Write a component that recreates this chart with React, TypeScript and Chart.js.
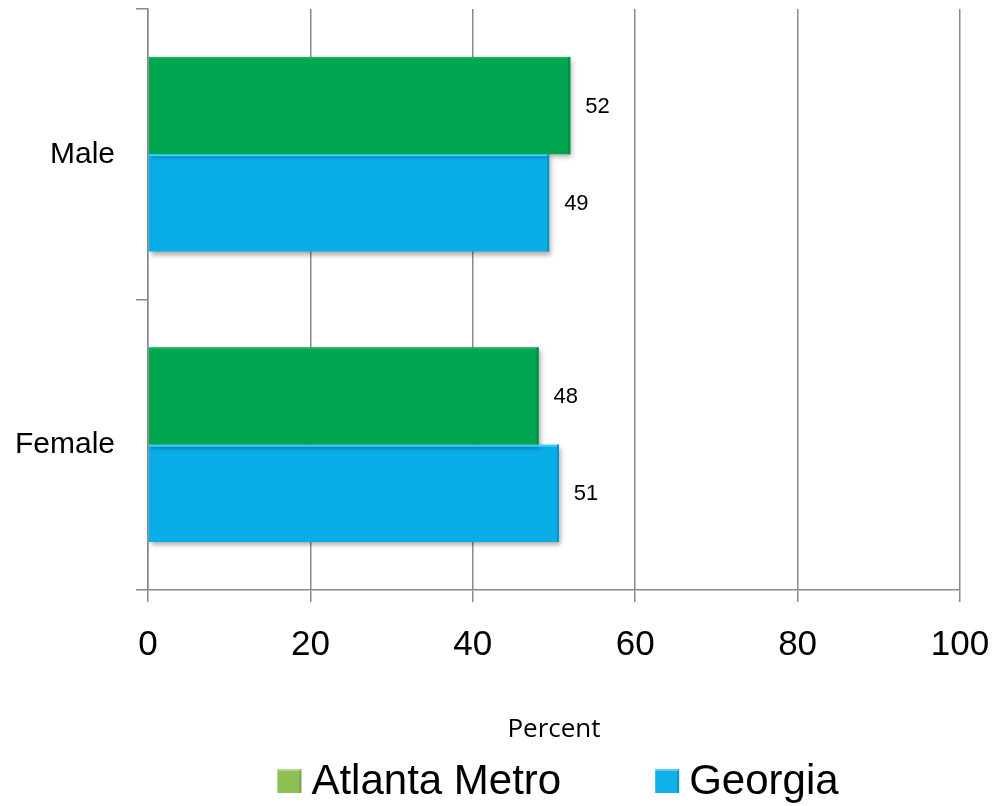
import React, { useEffect, useRef } from "react";
import { Chart, registerables } from "chart.js";

Chart.register(...registerables);

const categories = ["Male", "Female"];
const atlantaMetro = [52, 48.1];
const georgia = [49.4, 50.6];
const xTicks = [0, 20, 40, 60, 80, 100];
const seriesNames = ["Atlanta Metro", "Georgia"];
const barColors = ["#00a64f", "#09aee9"];
const barTopEdge = ["#14b060", "#3fcdfb"];
const barRightEdge = ["#008c42", "#0a92c6"];
const legendColors = ["#8dc153", "#12b0e8"];

const GRID = "#8a8a8a";
const SANS = "'Liberation Sans', Arial, sans-serif";

const shadowPlugin = {
  id: "barShadow",
  beforeDatasetsDraw(chart: any) {
    const ctx = chart.ctx;
    ctx.save();
    ctx.shadowColor = "rgba(0,0,0,0.35)";
    ctx.shadowBlur = 5;
    ctx.shadowOffsetX = 2;
    ctx.shadowOffsetY = 3;
  },
  afterDatasetsDraw(chart: any) {
    chart.ctx.restore();
  },
};

const bevelPlugin = {
  id: "bevel",
  afterDatasetsDraw(chart: any) {
    const ctx = chart.ctx;
    ctx.save();
    chart.data.datasets.forEach((ds: any, di: number) => {
      const meta = chart.getDatasetMeta(di);
      meta.data.forEach((bar: any) => {
        const h = bar.height;
        const top = bar.y - h / 2;
        const left = bar.base;
        const right = bar.x;
        ctx.fillStyle = barTopEdge[di];
        ctx.fillRect(left, top, right - left, 2);
        ctx.fillStyle = barRightEdge[di];
        ctx.fillRect(right - 2, top, 2, h);
      });
    });
    ctx.restore();
  },
};

const valueLabelPlugin = {
  id: "valueLabels",
  afterDatasetsDraw(chart: any) {
    const ctx = chart.ctx;
    ctx.save();
    ctx.font = "22px " + SANS;
    ctx.fillStyle = "#000";
    ctx.textAlign = "left";
    ctx.textBaseline = "middle";
    chart.data.datasets.forEach((ds: any, di: number) => {
      const meta = chart.getDatasetMeta(di);
      meta.data.forEach((bar: any, i: number) => {
        ctx.fillText(String(Math.round(ds.data[i])), bar.x + 15, bar.y + 1);
      });
    });
    ctx.restore();
  },
};

const legendPlugin = {
  id: "customLegend",
  afterDraw(chart: any) {
    const ctx = chart.ctx;
    const box = 24;
    const gap = 10;
    const itemGap = 94;
    ctx.save();
    ctx.font = "42px " + SANS;
    const widths = seriesNames.map((n) => ctx.measureText(n).width);
    const total = widths.reduce((a, w) => a + box + gap + w, 0) + itemGap * (seriesNames.length - 1);
    const ca = chart.chartArea;
    let x = (ca.left + ca.right) / 2 - total / 2 + 4;
    const cy = 781;
    seriesNames.forEach((n, i) => {
      ctx.fillStyle = legendColors[i];
      ctx.fillRect(x, cy - box / 2, box, box);
      ctx.fillStyle = "rgba(255,255,255,0.35)";
      ctx.fillRect(x, cy - box / 2, box, 2);
      ctx.fillStyle = "rgba(0,0,0,0.15)";
      ctx.fillRect(x + box - 2, cy - box / 2, 2, box);
      ctx.fillStyle = "#000";
      ctx.textAlign = "left";
      ctx.textBaseline = "middle";
      ctx.fillText(n, x + box + gap, cy + 1);
      x += box + gap + widths[i] + itemGap;
    });
    ctx.restore();
  },
};

export default function App() {
  const ref = useRef<HTMLCanvasElement | null>(null);
  useEffect(() => {
    const chart = new Chart(ref.current as HTMLCanvasElement, {
      type: "bar",
      data: {
        labels: categories,
        datasets: seriesNames.map((name, i) => ({
          label: name,
          data: i === 0 ? atlantaMetro : georgia,
          backgroundColor: barColors[i],
          borderWidth: 0,
          categoryPercentage: 0.67,
          barPercentage: 1,
        })),
      },
      options: {
        indexAxis: "y",
        animation: false,
        responsive: false,
        maintainAspectRatio: false,
        layout: { padding: { top: 9, right: 36, left: 0, bottom: 0 } },
        scales: {
          x: {
            min: 0,
            max: 100,
            afterBuildTicks(scale: any) {
              scale.ticks = xTicks.map((v) => ({ value: v }));
            },
            afterFit(scale: any) {
              scale.height = 216;
              scale.paddingLeft = 0;
              scale.paddingRight = 0;
            },
            grid: { color: GRID, lineWidth: 1.5, tickLength: 12 },
            border: { color: GRID, width: 1.5 },
            ticks: {
              color: "#000",
              padding: 22,
              font: { family: SANS, size: 35 },
            },
            title: {
              display: true,
              text: "Percent",
              color: "#000",
              font: { family: "'Open Sans', sans-serif", size: 26 },
              padding: { top: 0, bottom: 61 },
            },
          },
          y: {
            type: "category",
            offset: true,
            afterFit(scale: any) {
              scale.width = 148;
              scale.paddingTop = 0;
              scale.paddingBottom = 0;
            },
            grid: {
              offset: true,
              drawOnChartArea: false,
              color: GRID,
              lineWidth: 1.5,
              tickLength: 12,
            },
            border: { color: GRID, width: 1.5 },
            ticks: {
              color: "#000",
              padding: 21,
              font: { family: SANS, size: 30 },
            },
          },
        },
        plugins: {
          tooltip: { enabled: false },
          legend: { display: false },
        },
      },
      plugins: [shadowPlugin, bevelPlugin, valueLabelPlugin, legendPlugin],
    } as any);
    return () => chart.destroy();
  }, []);
  return (
    <div style={{ position: "absolute", left: 0, top: 0, width: 996, height: 806, background: "#fff" }}>
      <canvas ref={ref} width={996} height={806} style={{ width: 996, height: 806, display: "block" }} />
    </div>
  );
}
